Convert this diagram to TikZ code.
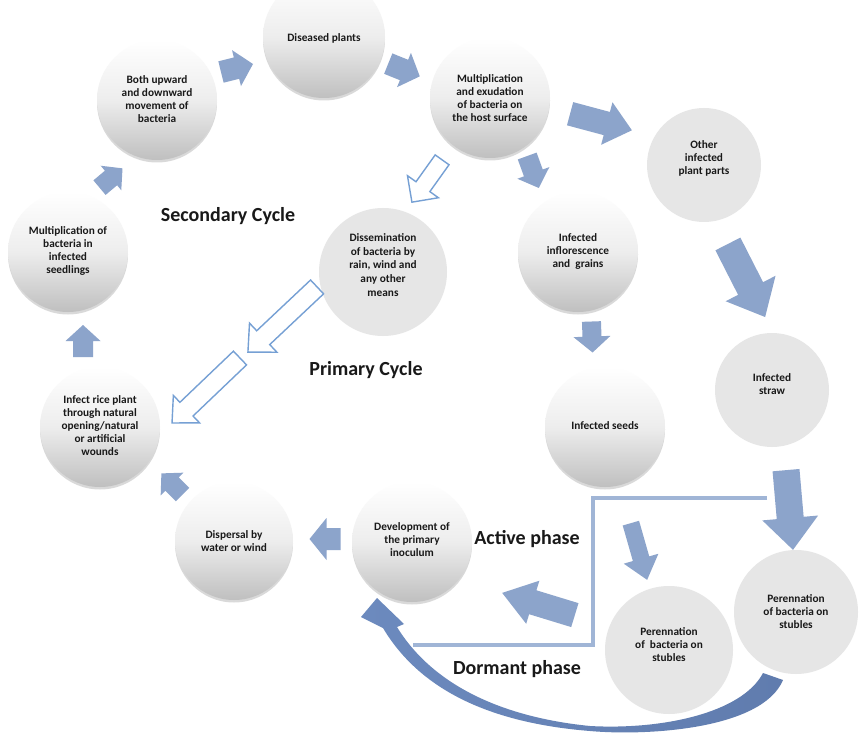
\documentclass[tikz,border=0pt]{standalone}
\usepackage{fontspec}
\setmainfont{Carlito}
\usetikzlibrary{shadows}
\definecolor{arrowblue}{RGB}{140,164,203}
\definecolor{outlineblue}{RGB}{118,160,212}
\definecolor{lineblue}{RGB}{160,181,214}
\definecolor{flatgray}{RGB}{230,230,230}
\definecolor{txt}{RGB}{25,25,25}
\definecolor{curveA}{RGB}{108,138,190}
\definecolor{curveB}{RGB}{165,182,210}
\definecolor{curveC}{RGB}{96,124,174}
\newcommand\cbold{\bfseries\fontsize{11.3}{13}\selectfont}
\newcommand\tbold{\bfseries\fontsize{20}{22}\selectfont}
\newcommand\blockarr[7]{% style, center, angle, length, shaftw, headw, headlen
  \path[#1, shift={(#2)}, rotate=#3] (-#4/2,-#5/2) -- (#4/2-#7,-#5/2) -- (#4/2-#7,-#6/2) -- (#4/2,0) -- (#4/2-#7,#6/2) -- (#4/2-#7,#5/2) -- (-#4/2,#5/2) -- cycle;}
\tikzset{
  gcirc/.style={circle, draw=none, inner sep=0pt, top color=white, bottom color=black!25, middle color=black!7,
    drop shadow={shadow xshift=0pt, shadow yshift=-2.5pt, opacity=.15, fill=black}},
  fcirc/.style={circle, draw=none, inner sep=0pt, fill=flatgray},
  ctext/.style={align=center, font=\cbold, text=txt, inner sep=0pt},
  ttext/.style={font=\tbold, text=txt, inner sep=0pt},
  solidarr/.style={fill=arrowblue},
  openarr/.style={draw=outlineblue, line width=1.4pt, fill=white, line join=miter},
}
\begin{document}
\begin{tikzpicture}[x=1pt, y=-1pt]
\useasboundingbox (0,0) rectangle (859,735);
\clip (0,0) rectangle (859,735);
\fill[white] (0,0) rectangle (859,735);

% circles
\node[gcirc, minimum size=122pt] (dis) at (324,37) {};
\node[gcirc, minimum size=120pt] (both) at (157,100) {};
\node[gcirc, minimum size=120pt] (mex) at (490,98) {};
\node[fcirc, minimum size=114pt] (oth) at (704,165) {};
\node[gcirc, minimum size=120pt] (infl) at (578,252) {};
\node[gcirc, minimum size=120pt] (seeds) at (605,427) {};
\node[fcirc, minimum size=114pt] (straw) at (772,390) {};
\node[fcirc, minimum size=124pt] (perR) at (796,612) {};
\node[fcirc, minimum size=128pt] (perL) at (669,650) {};
\node[gcirc, minimum size=120pt] (dev) at (412,542) {};
\node[gcirc, minimum size=118pt] (disp) at (234,541) {};
\node[gcirc, minimum size=120pt] (rice) at (100,427) {};
\node[gcirc, minimum size=120pt] (seedl) at (68,252) {};
\node[fcirc, minimum size=128pt] (diss) at (383,272) {};

% circle texts
\node[ctext] (tdis) at (324,38) {Diseased plants};
\node[ctext] (tboth) at (157,99) {Both upward\\and downward\\movement of\\bacteria};
\node[ctext] (tmex) at (490,98) {Multiplication\\and exudation\\of bacteria on\\the host surface};
\node[ctext] (toth) at (704,158) {Other\\infected\\plant parts};
\node[ctext] (tinfl) at (578,251) {Infected\\inflorescence\\and~ grains};
\node[ctext] (tseeds) at (605,426) {Infected seeds};
\node[ctext] (tstraw) at (772,384) {Infected\\straw};
\node[ctext] (tperR) at (796,612) {Perennation\\of bacteria on\\stubles};
\node[ctext] (tperL) at (669,645) {Perennation\\of~ bacteria on\\stubles};
\node[ctext] (tdev) at (412,540) {Development of\\the primary\\inoculum};
\node[ctext] (tdisp) at (234,541) {Dispersal by\\water or wind};
\node[ctext] (trice) at (100,426) {Infect rice plant\\through natural\\opening/natural\\or artificial\\wounds};
\node[ctext] (tseedl) at (68,251) {Multiplication of\\bacteria in\\infected\\seedlings};
\node[ctext, font=\bfseries\fontsize{11.3}{13.7}\selectfont] (tdiss) at (383,265) {Dissemination\\of bacteria by\\rain, wind and\\any other\\means};

% titles
\node[ttext] (sec) at (228,216) {Secondary Cycle};
\node[ttext] (pri) at (366,370) {Primary Cycle};
\node[ttext] (act) at (527,539) {Active phase};
\node[ttext] (dor) at (517,669) {Dormant phase};

% solid block arrows
\blockarr{solidarr}{237,68}{14}{33}{22}{37}{17}
\blockarr{solidarr}{404,70}{-22}{34}{22}{37}{17}
\blockarr{solidarr}{111,178}{40}{30}{19}{32}{15}
\blockarr{solidarr}{83,341}{90}{32}{20}{35}{16}
\blockarr{solidarr}{172,484}{135}{30}{19}{32}{15}
\blockarr{solidarr}{325,539}{180}{31}{22}{42}{17}
\blockarr{solidarr}{601,122}{-15}{64}{24}{44}{26}
\blockarr{solidarr}{533,172}{-70}{34}{20}{34}{16}
\blockarr{solidarr}{746.5,280.5}{-63}{82}{28}{56}{32}
\blockarr{solidarr}{592,337}{-88}{31}{19}{37}{16}
\blockarr{solidarr}{789.5,510}{-85}{80}{27}{56}{32}
\blockarr{solidarr}{639,551.5}{-74}{59}{17}{36}{22}
\blockarr{solidarr}{538.5,604}{163}{76}{25}{45}{32}

% outline arrows
\blockarr{openarr}{427,181}{234.5}{52}{17}{38}{19}
\blockarr{openarr}{282.5,319.5}{223.3}{95}{19}{40}{21}
\blockarr{openarr}{206,390.5}{223.7}{94}{19}{38}{20}

% L-shaped phase separator
\coordinate (l1) at (767,498);
\coordinate (l2) at (593,498);
\coordinate (l3) at (593,645);
\coordinate (l4) at (413,645);
\draw[lineblue, line width=4pt] (l1) -- (l2) -- (l3) -- (l4);

% curved arrow at bottom
\shade[left color=curveA, middle color=curveB, right color=curveC, shading angle=90]
  (783,680) .. controls (762,730) and (645,736) .. (590,731)
  .. controls (490,723) and (420,690) .. (383,628)
  -- (361,617) -- (377,598) -- (404,624) -- (397,627)
  .. controls (432,684) and (500,717) .. (590,726)
  .. controls (662,730) and (742,713) .. (763,673) -- cycle;
\end{tikzpicture}
\end{document}
